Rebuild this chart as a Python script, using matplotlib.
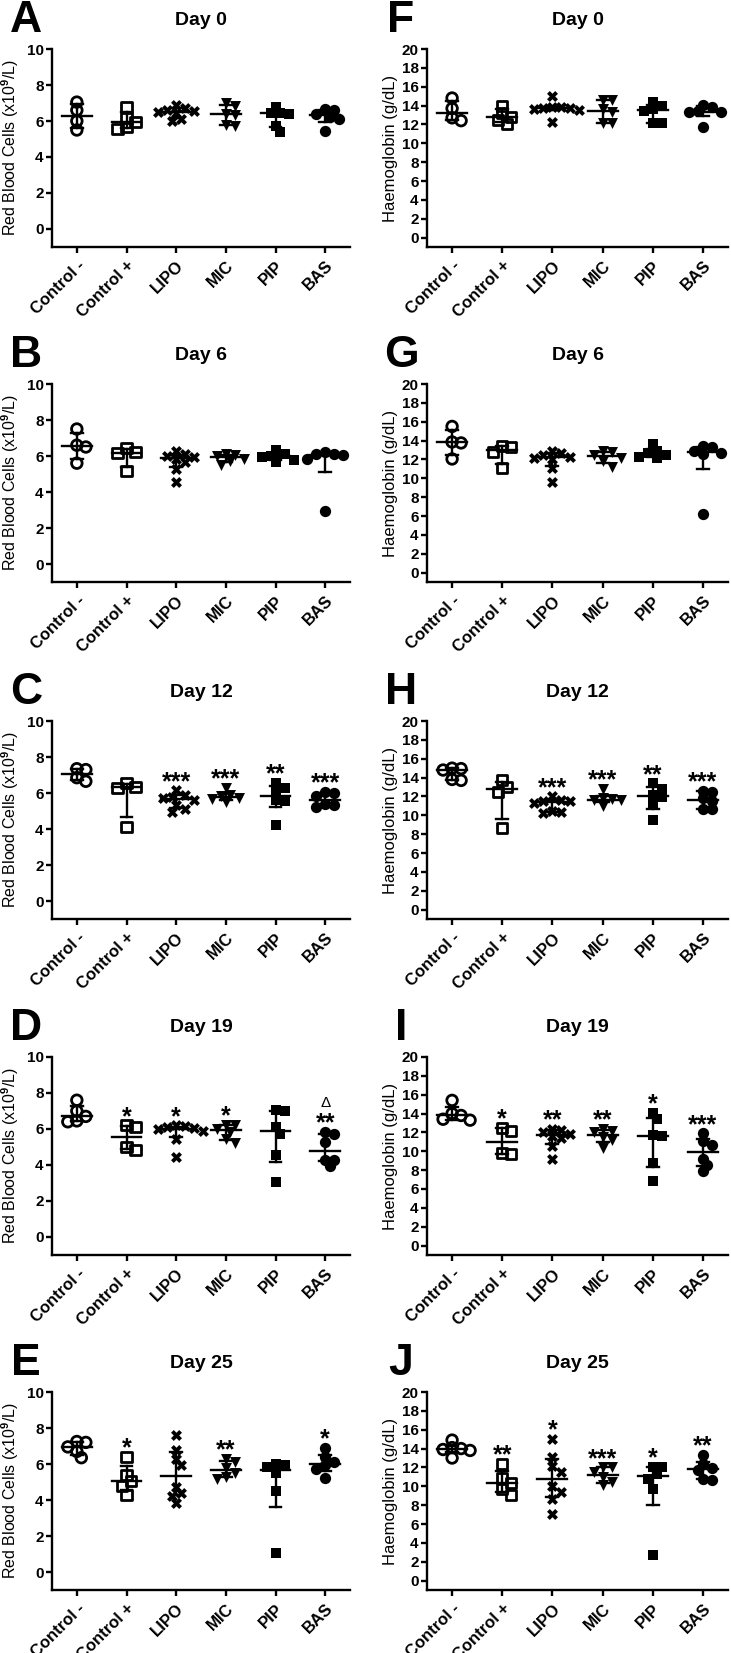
import numpy as np
import matplotlib
matplotlib.use('Agg')
import matplotlib.pyplot as plt

plt.rcParams['font.family'] = ['Liberation Sans', 'DejaVu Sans']
plt.rcParams['font.weight'] = 'bold'
plt.rcParams['mathtext.fontset'] = 'custom'
plt.rcParams['mathtext.rm'] = 'Liberation Sans:bold'
plt.rcParams['mathtext.bf'] = 'Liberation Sans:bold'

groups = ['Control -', 'Control +', 'LIPO', 'MIC', 'PIP', 'BAS']
days = ['Day 0', 'Day 6', 'Day 12', 'Day 19', 'Day 25']

# red blood cells (x10^9/L), one list per group
rbc_day0 = [[7.05, 6.6, 6.0, 5.5],
            [6.8, 6.15, 5.95, 5.65, 5.55],
            [6.9, 6.75, 6.6, 6.55, 6.5, 6.45, 6.1, 6.0],
            [7.0, 6.85, 6.4, 6.35, 5.8, 5.75],
            [6.8, 6.45, 6.45, 6.4, 5.75, 5.4],
            [6.65, 6.6, 6.4, 6.25, 6.1, 5.45]]
rbc_day6 = [[7.5, 6.6, 6.5, 5.6],
            [6.45, 6.2, 6.15, 5.15],
            [6.3, 6.1, 6.0, 5.95, 5.85, 5.65, 5.3, 4.55],
            [6.1, 6.05, 6.0, 5.85, 5.7, 5.5],
            [6.35, 6.1, 6.0, 5.95, 5.8, 5.65],
            [6.25, 6.1, 6.1, 6.05, 5.85, 2.95]]
rbc_day12 = [[7.35, 7.3, 6.85, 6.65],
             [6.55, 6.35, 6.3, 4.1],
             [6.15, 5.9, 5.8, 5.75, 5.6, 5.35, 5.1, 4.95],
             [6.3, 5.9, 5.85, 5.75, 5.65, 5.5],
             [6.55, 6.3, 6.1, 5.6, 5.55, 4.2],
             [6.05, 6.0, 5.85, 5.4, 5.35, 5.2]]
rbc_day19 = [[7.6, 7.0, 6.7, 6.45, 6.4],
             [6.2, 6.1, 5.0, 4.85],
             [6.2, 6.15, 6.1, 6.05, 6.0, 5.9, 5.45, 4.45],
             [6.25, 6.2, 6.0, 5.85, 5.45, 5.25],
             [7.05, 7.0, 6.1, 5.7, 4.55, 3.05],
             [5.85, 5.7, 5.3, 4.3, 4.3, 3.95]]
rbc_day25 = [[7.25, 7.2, 6.95, 6.7, 6.35],
             [6.4, 5.4, 5.05, 4.8, 4.3],
             [7.6, 6.8, 6.3, 5.95, 4.75, 4.4, 4.25, 3.85],
             [6.3, 6.1, 5.8, 5.5, 5.3, 5.15],
             [6.0, 5.95, 5.85, 5.5, 4.5, 1.05],
             [6.9, 6.4, 6.1, 5.95, 5.75, 5.2]]

# haemoglobin (g/dL)
hb_day0 = [[14.8, 13.7, 12.7, 12.4],
           [14.0, 13.2, 12.8, 12.5, 12.0],
           [15.0, 13.9, 13.8, 13.75, 13.7, 13.6, 13.5, 12.3],
           [14.6, 14.6, 13.6, 13.3, 12.2, 12.2],
           [14.4, 14.0, 13.6, 13.4, 12.2, 12.2],
           [14.1, 13.9, 13.4, 13.3, 13.3, 11.7]]
hb_day6 = [[15.5, 13.85, 13.75, 12.05],
           [13.4, 13.3, 12.8, 11.1],
           [12.9, 12.7, 12.5, 12.3, 12.2, 12.0, 11.1, 9.6],
           [12.9, 12.8, 12.5, 12.2, 11.8, 11.2],
           [13.6, 12.9, 12.7, 12.5, 12.3, 12.1],
           [13.4, 13.3, 12.9, 12.7, 12.6, 6.2]]
hb_day12 = [[15.0, 14.95, 14.8, 13.8, 13.7],
            [13.7, 13.0, 12.5, 8.6],
            [12.0, 11.6, 11.5, 11.5, 11.3, 10.5, 10.3, 10.2],
            [12.8, 11.8, 11.7, 11.6, 11.6, 11.0],
            [13.4, 12.8, 12.2, 11.9, 11.1, 9.5],
            [12.6, 12.5, 11.8, 11.5, 10.7, 10.65]]
hb_day19 = [[15.4, 14.0, 13.8, 13.4, 13.3],
            [12.5, 12.2, 9.8, 9.7],
            [12.4, 12.3, 12.0, 11.85, 11.6, 11.4, 10.6, 9.15],
            [12.4, 12.2, 12.0, 11.5, 11.2, 10.4],
            [14.1, 13.4, 11.7, 11.6, 8.8, 6.9],
            [11.9, 11.1, 10.7, 9.2, 8.55, 7.9]]
hb_day25 = [[14.9, 14.1, 14.0, 13.9, 13.8, 13.0],
            [12.4, 10.9, 10.35, 9.7, 9.1],
            [15.0, 13.1, 12.1, 11.5, 10.0, 9.4, 8.7, 7.1],
            [12.0, 12.0, 11.5, 11.0, 10.5, 10.1],
            [12.05, 12.0, 11.3, 10.8, 9.7, 2.75],
            [13.3, 12.4, 11.9, 11.7, 10.8, 10.7]]

rbc_stars = [['', '', '', '', '', ''],
             ['', '', '', '', '', ''],
             ['', '', '***', '***', '**', '***'],
             ['', '*', '*', '*', '', '**'],
             ['', '*', '', '**', '', '*']]
hb_stars = [['', '', '', '', '', ''],
            ['', '', '', '', '', ''],
            ['', '', '***', '***', '**', '***'],
            ['', '*', '**', '**', '*', '***'],
            ['', '**', '*', '***', '*', '**']]
rbc_delta = [['', '', '', '', '', ''],
             ['', '', '', '', '', ''],
             ['', '', '', '', '', ''],
             ['', '', '', '', '', 'Δ'],
             ['', '', '', '', '', '']]

rbc = [rbc_day0, rbc_day6, rbc_day12, rbc_day19, rbc_day25]
hb = [hb_day0, hb_day6, hb_day12, hb_day19, hb_day25]

W, H = 731, 1653
fig = plt.figure(figsize=(W / 100, H / 100), dpi=100)

styles = [dict(marker='o', facecolors='none', edgecolors='black', s=58, linewidths=2.0),
          dict(marker='s', facecolors='none', edgecolors='black', s=52, linewidths=2.0),
          dict(marker='X', color='black', s=62, linewidths=0),
          dict(marker='v', color='black', s=62, linewidths=0),
          dict(marker='s', color='black', s=58, linewidths=0),
          dict(marker='o', color='black', s=66, linewidths=0)]


def swarm(vals, ypx, step=4.5, dmin=7.5):
    # greedy horizontal spread in pixels, returns offsets in px
    vals = np.asarray(vals, dtype=float)
    order = np.argsort(-vals, kind='stable')
    placed = []
    off = np.zeros(len(vals))
    for i in order:
        y = vals[i] * ypx
        k = 0
        done = False
        while not done:
            for c in ([0] if k == 0 else [k, -k]):
                x = c * step
                if all(np.hypot(x - px, y - py) >= dmin for px, py in placed):
                    placed.append((x, y))
                    off[i] = x
                    done = True
                    break
            k += 1
    return off


def panel(rect, data, stars, delta, title, letter, ylab, ylabsize, ymax, yticks, labx):
    ax = fig.add_axes([rect[0] / W, 1 - (rect[1] + rect[3]) / H, rect[2] / W, rect[3] / H])
    ax.set_xlim(-0.5, 5.5)
    ax.set_ylim(-1, ymax)
    xpx = rect[2] / 6.0
    ypx = rect[3] / (ymax + 1.0)
    for i, vals in enumerate(data):
        vals = np.asarray(vals)
        xs = i + swarm(vals, ypx) / xpx
        ax.scatter(xs, vals, zorder=2, clip_on=False, **styles[i])
        q1, med, q3 = np.percentile(vals, [25, 50, 75], method='weibull')
        ax.plot([i - 0.3, i + 0.3], [med, med], color='black', lw=1.7, zorder=3)
        ax.plot([i, i], [q1, q3], color='black', lw=1.7, zorder=3)
        ax.plot([i - 0.12, i + 0.12], [q1, q1], color='black', lw=1.7, zorder=3)
        ax.plot([i - 0.12, i + 0.12], [q3, q3], color='black', lw=1.7, zorder=3)
        if stars[i]:
            ax.annotate(stars[i], (i, vals.max()), xytext=(0, 1), textcoords='offset points',
                        ha='center', va='baseline', fontsize=18)
        if delta[i]:
            ax.annotate(delta[i], (i, vals.max()), xytext=(0, 18), textcoords='offset points',
                        ha='center', va='baseline', fontsize=11, fontweight='normal')
    ax.spines['top'].set_visible(False)
    ax.spines['right'].set_visible(False)
    ax.spines['left'].set_linewidth(1.7)
    ax.spines['bottom'].set_linewidth(1.7)
    ax.set_yticks(yticks)
    ax.set_xticks(range(6))
    ax.set_xticklabels(groups, rotation=45, ha='right', rotation_mode='anchor', fontsize=12)
    ax.tick_params(direction='out', length=4, width=1.7)
    ax.tick_params(axis='y', labelsize=11, pad=2)
    ax.tick_params(axis='x', pad=4)
    ax.set_ylabel(ylab, fontsize=ylabsize)
    ax.yaxis.set_label_coords(labx, 0.5)
    ax.text(0.5, 1 + 29 / rect[3], title, transform=ax.transAxes, ha='center', va='center',
            fontsize=14)
    ax.text(-26 / rect[2], 1 + 17 / rect[3], letter, transform=ax.transAxes, ha='center',
            va='baseline', fontsize=32)
    return ax


tops = [49, 384, 721, 1057, 1392]
left_letters = ['A', 'B', 'C', 'D', 'E']
right_letters = ['F', 'G', 'H', 'I', 'J']
for r in range(5):
    panel((52, tops[r], 298, 198), rbc[r], rbc_stars[r], rbc_delta[r], days[r],
          left_letters[r], r'Red Blood Cells (x10$^{9}$/L)', 11.5, 10, [0, 2, 4, 6, 8, 10],
          -31 / 298)
    panel((427, tops[r], 301, 198), hb[r], hb_stars[r], ['', '', '', '', '', ''], days[r],
          right_letters[r], 'Haemoglobin (g/dL)', 12, 20, list(range(0, 21, 2)), -29 / 301)

fig.savefig('out.png', dpi=100, facecolor='white')
